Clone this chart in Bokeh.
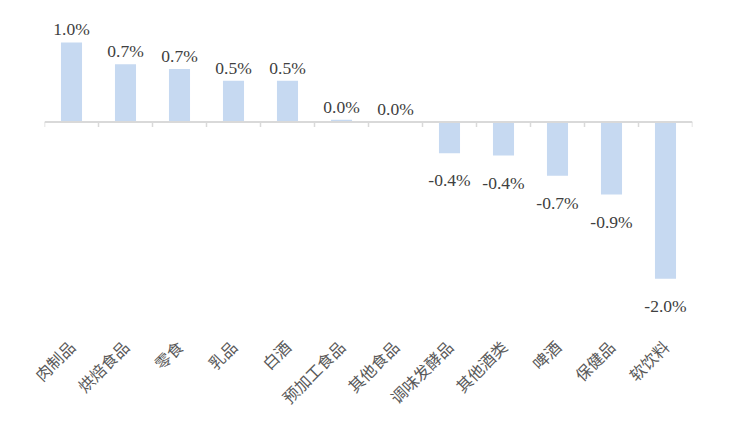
import math
from bokeh.plotting import figure
from bokeh.models import ColumnDataSource, FactorRange, Range1d, Span
from bokeh.core.properties import value
from bokeh.embed import file_html
from bokeh.resources import INLINE

categories = ["肉制品", "烘焙食品", "零食", "乳品", "白酒", "预加工食品", "其他食品",
              "调味发酵品", "其他酒类", "啤酒", "保健品", "软饮料"]
values = [1.02, 0.74, 0.68, 0.53, 0.53, 0.03, 0.0, -0.40, -0.43, -0.69, -0.93, -2.01]

labels = ["%.1f%%" % v for v in values]
pos = [v >= 0 for v in values]

p = figure(width=736, height=448, x_range=FactorRange(*categories, range_padding=0),
           y_range=Range1d(-2.609, 1.494), output_backend="svg", toolbar_location=None,
           min_border_left=44, min_border_right=44, min_border_top=5, min_border_bottom=123)
p.outline_line_color = None
p.xgrid.visible = False
p.ygrid.visible = False
p.yaxis.visible = False
p.background_fill_color = "white"
p.border_fill_color = "white"

src = ColumnDataSource(dict(cat=categories, val=values, lab=labels))
p.vbar(x="cat", top="val", bottom=0, width=0.39, source=src,
       fill_color="#C6D9F1", line_color=None)

# zero line
p.add_layout(Span(location=0, dimension="width", line_color="#D9D9D9", line_width=2))
# boundary ticks on zero line
bx = list(range(len(categories) + 1))
p.segment(x0=bx, y0=[0] * len(bx), x1=bx, y1=[-0.065] * len(bx),
          line_color="#D9D9D9", line_width=1.5)

pos_src = ColumnDataSource(dict(cat=[c for c, q in zip(categories, pos) if q],
                                val=[v for v, q in zip(values, pos) if q],
                                lab=[l for l, q in zip(labels, pos) if q]))
neg_src = ColumnDataSource(dict(cat=[c for c, q in zip(categories, pos) if not q],
                                val=[v for v, q in zip(values, pos) if not q],
                                lab=[l for l, q in zip(labels, pos) if not q]))
common = dict(text="lab", text_align="center", text_baseline="alphabetic",
              text_font=value("Liberation Serif"), text_font_size="17.5px",
              text_color="#404040")
p.text(x="cat", y="val", source=pos_src, y_offset=-13, **common)
p.text(x="cat", y="val", source=neg_src, y_offset=27, **common)

ax = p.xaxis[0]
ax.axis_line_color = None
ax.major_tick_line_color = None
ax.minor_tick_line_color = None
ax.major_label_orientation = math.pi / 4
ax.major_label_standoff = 12
ax.major_label_text_font = "Noto Sans CJK SC"
ax.major_label_text_font_size = "16px"
ax.major_label_text_color = "#595959"

open("out.html", "w").write(file_html(p, INLINE))
